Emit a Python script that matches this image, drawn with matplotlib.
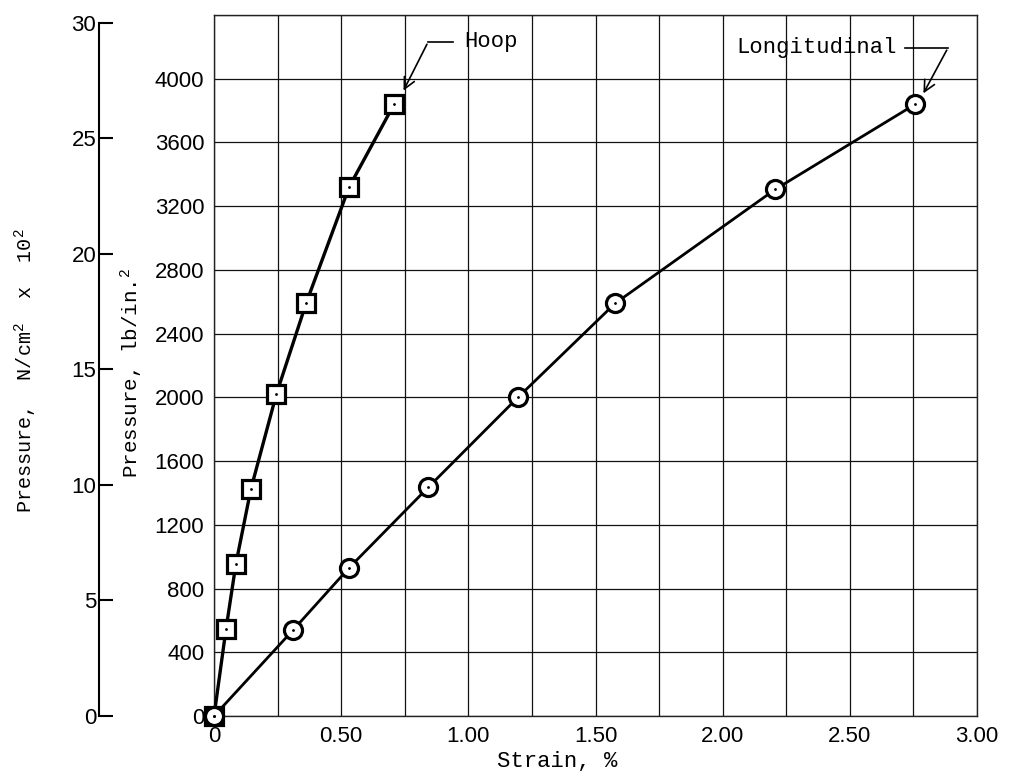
import numpy as np
import matplotlib.pyplot as plt
from matplotlib.ticker import FixedLocator

plt.rcParams['font.family'] = ['Liberation Sans', 'DejaVu Sans']
plt.rcParams['mathtext.default'] = 'regular'

# Hoop strain (squares)
hoop_strain = [0.0, 0.047, 0.086, 0.145, 0.245, 0.363, 0.531, 0.708]
hoop_press = [0, 545, 955, 1425, 2020, 2595, 3320, 3840]

# Longitudinal strain (circles)
long_strain = [0.0, 0.311, 0.531, 0.842, 1.195, 1.577, 2.206, 2.757]
long_press = [0, 540, 930, 1435, 2000, 2590, 3305, 3840]

x_ticks = np.arange(0, 3.01, 0.25)
x_labels = ['0', '', '0.50', '', '1.00', '', '1.50', '', '2.00', '', '2.50', '', '3.00']
y_ticks = np.arange(0, 4401, 400)
y_labels = [str(v) for v in range(0, 4001, 400)] + ['']
si_ticks = [0, 5, 10, 15, 20, 25, 30]

PSI_TO_SI = 0.0068948  # lb/in^2 -> N/cm^2 x 10^2

mono = 'Liberation Mono'
tick_fs = 16

fig = plt.figure(figsize=(10.13, 7.78), dpi=100)
ax = fig.add_axes([0.2113, 0.0797, 0.7532, 0.901])

ax.plot(hoop_strain, hoop_press, color='black', lw=2.4, marker='s', ms=12.5,
        mfc='white', mec='black', mew=2.3, zorder=5, clip_on=False)
ax.plot(long_strain, long_press, color='black', lw=2.0, marker='o', ms=13,
        mfc='white', mec='black', mew=2.3, zorder=5, clip_on=False)
# small centre dots in the symbols
ax.plot(hoop_strain, hoop_press, ls='none', marker='.', ms=2, color='black', zorder=6, clip_on=False)
ax.plot(long_strain, long_press, ls='none', marker='.', ms=2, color='black', zorder=6, clip_on=False)

ax.set_xlim(0, 3.0)
ax.set_ylim(0, 4400)
ax.set_xticks(x_ticks)
ax.set_xticklabels(x_labels)
ax.set_yticks(y_ticks)
ax.set_yticklabels(y_labels)
ax.tick_params(length=0, labelsize=tick_fs, pad=7)
ax.grid(True, color='#111111', lw=0.9)
for s in ax.spines.values():
    s.set_linewidth(1.0)
    s.set_color('#222222')

ax.set_xlabel('Strain, %', fontfamily=mono, fontsize=16)
ax.xaxis.set_label_coords(0.45, -0.05)
ax.set_ylabel('Pressure, lb/in.$^2$', fontfamily=mono, fontsize=15)
ax.yaxis.set_label_coords(-0.09, 0.49)

# leader arrows
ax.annotate('', xy=(0.74, 3910), xytext=(0.842, 4232),
            arrowprops=dict(arrowstyle='->', color='black', lw=1.2, mutation_scale=20))
ax.plot([0.842, 0.94], [4232, 4232], color='black', lw=1.2, clip_on=False)
ax.text(0.983, 4232, 'Hoop', fontfamily=mono, fontsize=16, va='center', ha='left')

ax.annotate('', xy=(2.784, 3893), xytext=(2.886, 4195),
            arrowprops=dict(arrowstyle='->', color='black', lw=1.2, mutation_scale=20))
ax.plot([2.717, 2.886], [4195, 4195], color='black', lw=1.2, clip_on=False)
ax.text(2.686, 4195, 'Longitudinal', fontfamily=mono, fontsize=16, va='center', ha='right')

# secondary SI scale on the far left
ax2 = fig.add_axes([0.0977, 0.0797, 0.001, 0.901])
ax2.set_ylim(0, 4400 * PSI_TO_SI)
ax2.set_xticks([])
ax2.yaxis.set_major_locator(FixedLocator(si_ticks))
ax2.tick_params(axis='y', direction='in', length=10, width=1.5, labelsize=tick_fs, pad=2)
for name in ['top', 'right', 'bottom']:
    ax2.spines[name].set_visible(False)
ax2.spines['left'].set_bounds(0, 30)
ax2.spines['left'].set_linewidth(1.5)
ax2.patch.set_visible(False)

fig.text(0.025, 0.523, 'Pressure,  N/cm$^2$  x  10$^2$', rotation=90, fontfamily=mono,
         fontsize=14.5, ha='center', va='center')

fig.savefig('out.png', dpi=100)
